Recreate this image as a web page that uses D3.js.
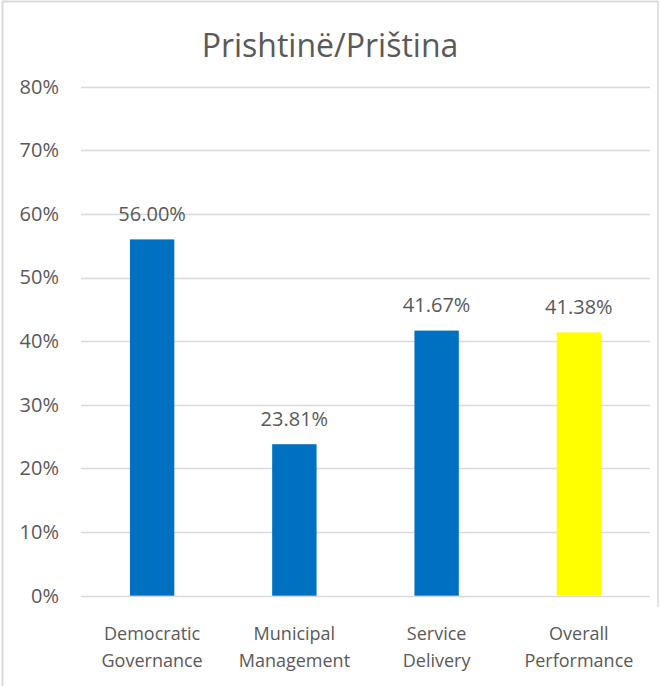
<!DOCTYPE html>
<html>
<head>
<meta charset="utf-8">
<script src="https://cdn.jsdelivr.net/npm/d3@7"></script>
<style>
html,body{margin:0;padding:0;background:#fff;}
svg{display:block;font-family:"Open Sans",sans-serif;}
</style>
</head>
<body>
<svg id="chart" width="660" height="686"></svg>
<script>
const title = "Prishtinë/Priština";
const categories = [["Democratic","Governance"],["Municipal","Management"],["Service","Delivery"],["Overall","Performance"]];
const values = [56.00, 23.81, 41.67, 41.38];
const barColors = ["#0070C0","#0070C0","#0070C0","#FFFF00"];
const yTicks = [0,10,20,30,40,50,60,70,80];

const svg = d3.select("#chart");
const textColor = "#595959";

// frame
svg.append("line").attr("x1",2.5).attr("x2",2.5).attr("y1",1).attr("y2",686).attr("stroke","#d9d9d9").attr("stroke-width",2);
svg.append("line").attr("x1",2).attr("x2",658).attr("y1",1.5).attr("y2",1.5).attr("stroke","#d9d9d9").attr("stroke-width",2);
svg.append("line").attr("x1",658).attr("x2",658).attr("y1",1).attr("y2",607).attr("stroke","#d9d9d9").attr("stroke-width",1.5);

const x = d3.scaleBand().domain(d3.range(categories.length)).range([81,650]).paddingInner(0.688).paddingOuter(0.344);
const y = d3.scaleLinear().domain([0,80]).range([595.7,86.7]);

svg.append("text").attr("x",330).attr("y",57).attr("text-anchor","middle")
  .attr("font-size",32).attr("fill",textColor).text(title);

// gridlines
svg.append("g").selectAll("line").data(yTicks).join("line")
  .attr("x1",81).attr("x2",650)
  .attr("y1",d=>Math.round(y(d))+0.5).attr("y2",d=>Math.round(y(d))+0.5)
  .attr("stroke","#d9d9d9").attr("stroke-width",1.3);

// y axis labels
const yAxis = d3.axisLeft(y).tickValues(yTicks).tickFormat(d=>d+"%").tickSize(0).tickPadding(0);
const ya = svg.append("g").attr("transform","translate(59,0)").call(yAxis);
ya.select(".domain").remove();
ya.selectAll("text").attr("font-size",20).attr("fill",textColor).attr("font-family","Open Sans, sans-serif");

// bars
svg.append("g").selectAll("rect").data(values).join("rect")
  .attr("x",(d,i)=>x(i)).attr("width",x.bandwidth())
  .attr("y",d=>y(d)).attr("height",d=>y(0)-y(d))
  .attr("fill",(d,i)=>barColors[i]);

// data labels
svg.append("g").selectAll("text").data(values).join("text")
  .attr("x",(d,i)=>x(i)+x.bandwidth()/2).attr("y",d=>y(d)-18.5)
  .attr("text-anchor","middle").attr("font-size",20).attr("fill",textColor)
  .text(d=>d.toFixed(2)+"%");

// category labels
const cat = svg.append("g").selectAll("text").data(categories).join("text")
  .attr("text-anchor","middle").attr("font-size",18).attr("fill",textColor)
  .attr("transform",(d,i)=>`translate(${x(i)+x.bandwidth()/2},0)`);
cat.selectAll("tspan").data(d=>d).join("tspan")
  .attr("x",0).attr("y",(d,j)=>640+j*27).text(d=>d);
</script>
</body>
</html>
